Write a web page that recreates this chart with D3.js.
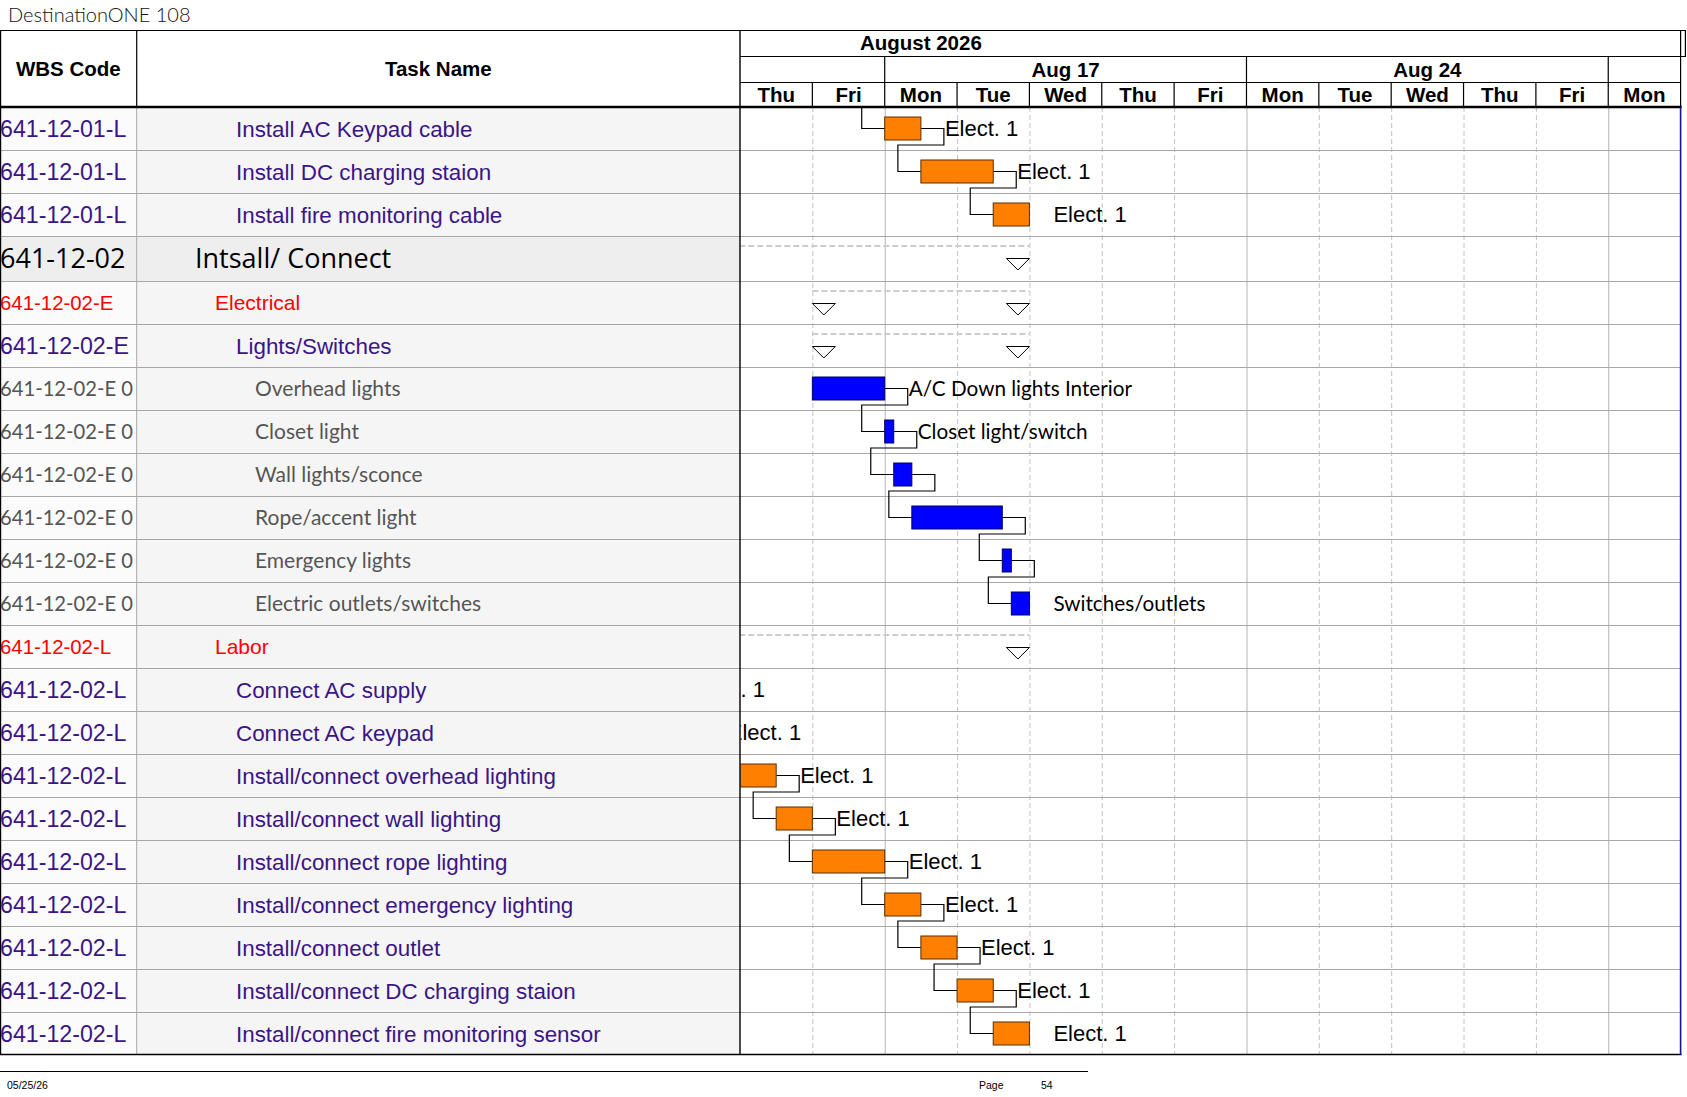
<!DOCTYPE html>
<html>
<head>
<meta charset="utf-8">
<script src="https://cdn.jsdelivr.net/npm/d3@7"></script>
<style>
  body { margin: 0; background: #fff; }
  svg { display: block; }
</style>
</head>
<body>
<div id="chart"></div>
<script>
(() => {

  // --- data -----------------------------------------------------------
  let wbsCodes = [
    "641-12-01-L", "641-12-01-L", "641-12-01-L",
    "641-12-02", "641-12-02-E", "641-12-02-E",
    "641-12-02-E 0", "641-12-02-E 0", "641-12-02-E 0",
    "641-12-02-E 0", "641-12-02-E 0", "641-12-02-E 0",
    "641-12-02-L", "641-12-02-L", "641-12-02-L", "641-12-02-L",
    "641-12-02-L", "641-12-02-L", "641-12-02-L", "641-12-02-L",
    "641-12-02-L", "641-12-02-L"
  ]

  let taskNames = [
    "Install AC Keypad cable", "Install DC charging staion", "Install fire monitoring cable",
    "Intsall/ Connect", "Electrical", "Lights/Switches",
    "Overhead lights", "Closet light", "Wall lights/sconce",
    "Rope/accent light", "Emergency lights", "Electric outlets/switches",
    "Labor", "Connect AC supply", "Connect AC keypad",
    "Install/connect overhead lighting", "Install/connect wall lighting",
    "Install/connect rope lighting", "Install/connect emergency lighting",
    "Install/connect outlet", "Install/connect DC charging staion",
    "Install/connect fire monitoring sensor"
  ]

  let outlineLevels = [3, 3, 3, 1, 2, 3, 4, 4, 4, 4, 4, 4, 2, 3, 3, 3, 3, 3, 3, 3, 3, 3]

  // bar kind: "res" = orange resource task, "fix" = blue task, "sum" = summary
  let barKinds = [
    "res", "res", "res", "sum", "sum", "sum",
    "fix", "fix", "fix", "fix", "fix", "fix",
    "sum", "res", "res", "res", "res", "res", "res", "res", "res", "res"
  ]

  // start / finish in working days counted from Thu Aug 13 2026
  let taskStart = [2, 2.5, 3.5, -2, 1, 1, 1, 2, 2.125, 2.375, 3.625, 3.75,
                   -2, -1.5, -1, 0, 0.5, 1, 2, 2.5, 3, 3.5]
  let taskEnd = [2.5, 3.5, 4, 4, 4, 4, 2, 2.125, 2.375, 3.625, 3.75, 4,
                 4, -1, -0.5, 0.5, 1, 2, 2.5, 3, 3.5, 4]

  let barLabels = [
    "Elect. 1", "Elect. 1", "Elect. 1", "", "", "",
    "A/C Down lights Interior", "Closet light/switch", "", "", "", "Switches/outlets",
    "", "Elect. 1", "Elect. 1", "Elect. 1", "Elect. 1", "Elect. 1",
    "Elect. 1", "Elect. 1", "Elect. 1", "Elect. 1"
  ]

  // finish-to-start links, by row index
  let links = [[0, 1], [1, 2], [6, 7], [7, 8], [8, 9], [9, 10], [10, 11],
               [13, 14], [14, 15], [15, 16], [16, 17], [17, 18], [18, 19], [19, 20], [20, 21]]
  let linkedFromAbove = [0]

  // timescale
  let dayLabels = ["Thu", "Fri", "Mon", "Tue", "Wed", "Thu", "Fri", "Mon", "Tue", "Wed", "Thu", "Fri", "Mon"]
  let weekLabels = ["Aug 10", "Aug 17", "Aug 24", "Aug 31"]
  let weekStarts = [-3, 2, 7, 12]
  let monthLabels = ["August 2026"]
  let monthSpans = [[-8, 13]]

  // --- layout -----------------------------------------------------------
  let W = 1687, H = 1097
  let arial = "'Liberation Sans', Arial, sans-serif"
  let calibri = "Lato, 'Open Sans', sans-serif"
  let tahoma = "'Open Sans', 'Noto Sans', sans-serif"

  let svg = d3.select("#chart")
  .append("svg")
  .attr("width", W)
  .attr("height", H)

  let wbsRight = 136.7
  let tableRight = 740
  let headTop = 30.5
  let bodyTop = 107

  let x = d3.scaleLinear()
  .domain([0, dayLabels.length])
  .range([tableRight, 1680.6])

  let rowH = outlineLevels.map(l => l === 1 ? 45 : 43)
  let rowTop = [bodyTop].concat(Array.from(d3.cumsum(rowH)).map(v => bodyTop + v))
  let bodyBottom = rowTop[rowTop.length - 1]
  let mid = i => rowTop[i] + rowH[i] / 2
  let barTop = i => rowTop[i] + 10
  let barH = 23

  let levelStyle = {
    1: {font: tahoma, size: 27, wbsSize: 27, color: "#000", indent: 195},
    2: {font: arial, size: 21, wbsSize: 20.4, color: "#ff0000", indent: 215},
    3: {font: arial, size: 22.4, wbsSize: 23.2, color: "#3b1487", indent: 236},
    4: {font: calibri, size: 21, wbsSize: 20.2, color: "#555", indent: 255}
  }

  // title
  svg.append("text")
  .attr("x", 8)
  .attr("y", 21.5)
  .text("DestinationONE 108")
  .style("font-family", calibri)
  .style("font-weight", 300)
  .style("font-size", "20px")
  .style("fill", "#111")

  // row backgrounds
  let rows = svg.append("g")
  rows.selectAll(".wbs_bg")
  .data(taskNames)
  .enter()
  .append("rect")
  .attr("x", 0)
  .attr("y", (d, i) => rowTop[i])
  .attr("width", wbsRight)
  .attr("height", (d, i) => rowH[i])
  .style("fill", (d, i) => outlineLevels[i] === 1 ? "#eeeeee" : "#fbfbfb")

  rows.selectAll(".name_bg")
  .data(taskNames)
  .enter()
  .append("rect")
  .attr("x", wbsRight)
  .attr("y", (d, i) => rowTop[i])
  .attr("width", tableRight - wbsRight)
  .attr("height", (d, i) => rowH[i])
  .style("fill", (d, i) => outlineLevels[i] === 1 ? "#eeeeee" : "#f5f5f5")

  // gantt vertical grid
  let grid = svg.append("g")
  grid.selectAll(".day_line")
  .data(d3.range(1, dayLabels.length))
  .enter()
  .append("line")
  .attr("x1", d => x(d) + 0.5)
  .attr("x2", d => x(d) + 0.5)
  .attr("y1", bodyTop)
  .attr("y2", bodyBottom)
  .style("stroke", d => weekStarts.includes(d) ? "#b4b4b4" : "#c4c4c4")
  .style("stroke-width", 1)
  .style("stroke-dasharray", d => weekStarts.includes(d) ? null : "5,3")

  // row lines
  grid.selectAll(".row_line")
  .data(rowTop.slice(1, -1))
  .enter()
  .append("line")
  .attr("x1", 0)
  .attr("x2", x.range()[1])
  .attr("y1", d => d + 0.5)
  .attr("y2", d => d + 0.5)
  .style("stroke", "#a8a8a8")
  .style("stroke-width", 1.2)

  grid.append("line")
  .attr("x1", wbsRight).attr("x2", wbsRight)
  .attr("y1", bodyTop).attr("y2", bodyBottom)
  .style("stroke", "#a8a8a8")

  // table text
  let tbl = svg.append("g")
  tbl.selectAll(".wbs")
  .data(wbsCodes)
  .enter()
  .append("text")
  .attr("x", 0)
  .attr("y", (d, i) => mid(i))
  .attr("dy", "0.36em")
  .text(d => d)
  .style("font-family", (d, i) => levelStyle[outlineLevels[i]].font)
  .style("font-size", (d, i) => levelStyle[outlineLevels[i]].wbsSize + "px")
  .style("fill", (d, i) => levelStyle[outlineLevels[i]].color)

  tbl.selectAll(".name")
  .data(taskNames)
  .enter()
  .append("text")
  .attr("x", (d, i) => levelStyle[outlineLevels[i]].indent)
  .attr("y", (d, i) => mid(i))
  .attr("dy", "0.36em")
  .text(d => d)
  .style("font-family", (d, i) => levelStyle[outlineLevels[i]].font)
  .style("font-size", (d, i) => levelStyle[outlineLevels[i]].size + "px")
  .style("fill", (d, i) => levelStyle[outlineLevels[i]].color)

  // --- gantt body, clipped to the page's timescale ------------------------
  svg.append("clipPath")
  .attr("id", "gantt_clip")
  .append("rect")
  .attr("x", tableRight + 0.5)
  .attr("y", bodyTop)
  .attr("width", x.range()[1] - tableRight - 0.5)
  .attr("height", bodyBottom - bodyTop)

  let gantt = svg.append("g").attr("clip-path", "url(#gantt_clip)")

  let summaries = d3.range(taskNames.length).filter(i => barKinds[i] === "sum")
  let bars = d3.range(taskNames.length).filter(i => barKinds[i] !== "sum")

  gantt.selectAll(".sum_line")
  .data(summaries)
  .enter()
  .append("line")
  .attr("x1", i => x(taskStart[i]))
  .attr("x2", i => x(taskEnd[i]))
  .attr("y1", i => rowTop[i] + 10)
  .attr("y2", i => rowTop[i] + 10)
  .style("stroke", "#cccccc")
  .style("stroke-width", 2)
  .style("stroke-dasharray", "6,3")

  let tri = (x0, y0) => `M${x0},${y0} L${x0 + 23},${y0} L${x0 + 11.5},${y0 + 11.5} Z`

  gantt.selectAll(".sum_start")
  .data(summaries)
  .enter()
  .append("path")
  .attr("d", i => tri(x(taskStart[i]), rowTop[i] + 22.5))
  .style("fill", "#fff")
  .style("stroke", "#000")
  .style("stroke-width", 1)

  gantt.selectAll(".sum_end")
  .data(summaries)
  .enter()
  .append("path")
  .attr("d", i => tri(x(taskEnd[i]) - 23, rowTop[i] + 22.5))
  .style("fill", "#fff")
  .style("stroke", "#000")
  .style("stroke-width", 1)

  // link lines
  let linkPath = ([a, b]) => {
    let x1 = x(taskEnd[a]), x2 = x(taskStart[b])
    let yb = barTop(a) + barH + 5
    return `M${x1},${mid(a)} H${x1 + 23} V${yb} H${x2 - 23} V${mid(b)} H${x2}`
  }

  gantt.selectAll(".link")
  .data(links)
  .enter()
  .append("path")
  .attr("d", linkPath)
  .style("fill", "none")
  .style("stroke", "#000")
  .style("stroke-width", 1.2)

  gantt.selectAll(".link_above")
  .data(linkedFromAbove)
  .enter()
  .append("path")
  .attr("d", i => `M${x(taskStart[i]) - 23},${rowTop[i]} V${mid(i)} H${x(taskStart[i])}`)
  .style("fill", "none")
  .style("stroke", "#000")
  .style("stroke-width", 1.2)

  gantt.selectAll(".bar")
  .data(bars)
  .enter()
  .append("rect")
  .attr("x", i => x(taskStart[i]))
  .attr("y", i => barTop(i))
  .attr("width", i => x(taskEnd[i]) - x(taskStart[i]))
  .attr("height", barH)
  .style("fill", i => barKinds[i] === "res" ? "#ff8000" : "#0000ff")
  .style("stroke", i => barKinds[i] === "res" ? "#5a2d00" : "#000060")
  .style("stroke-width", 1)

  gantt.selectAll(".bar_label")
  .data(bars.filter(i => barLabels[i]))
  .enter()
  .append("text")
  .attr("x", i => x(taskEnd[i]) + 24)
  .attr("y", i => mid(i))
  .attr("dy", "0.36em")
  .text(i => barLabels[i])
  .style("font-family", i => barKinds[i] === "res" ? arial : calibri)
  .style("font-size", i => barKinds[i] === "res" ? "22px" : "20.7px")
  .style("fill", "#000")

  // --- header -------------------------------------------------------------
  let head = svg.append("g")
  let monthBottom = 56.5, weekBottom = 82.5

  head.append("text")
  .attr("x", wbsRight / 2)
  .attr("y", 76)
  .text("WBS Code")
  .style("text-anchor", "middle")

  head.append("text")
  .attr("x", (wbsRight + tableRight) / 2)
  .attr("y", 76)
  .text("Task Name")
  .style("text-anchor", "middle")

  head.selectAll(".month")
  .data(monthLabels)
  .enter()
  .append("text")
  .attr("x", (d, i) => x((monthSpans[i][0] + monthSpans[i][1]) / 2))
  .attr("y", 50)
  .text(d => d)
  .style("text-anchor", "middle")

  // only weeks whose whole Mon-Fri cell is on this page get a label
  let shownWeeks = d3.range(weekLabels.length)
    .filter(i => weekStarts[i] >= 0 && weekStarts[i] + 5 <= dayLabels.length)

  head.selectAll(".week")
  .data(shownWeeks)
  .enter()
  .append("text")
  .attr("x", i => x(weekStarts[i] + 2.5))
  .attr("y", 77)
  .text(i => weekLabels[i])
  .style("text-anchor", "middle")

  head.selectAll(".day")
  .data(dayLabels)
  .enter()
  .append("text")
  .attr("x", (d, i) => x(i + 0.5))
  .attr("y", 101.5)
  .text(d => d)
  .style("text-anchor", "middle")

  head.selectAll("text")
  .style("font-family", arial)
  .style("font-weight", "bold")
  .style("font-size", "20.5px")
  .style("fill", "#000")

  let hline = (x1, x2, y, w) => head.append("line")
  .attr("x1", x1).attr("x2", x2).attr("y1", y).attr("y2", y)
  .style("stroke", "#000").style("stroke-width", w || 1.2)
  let vline = (xx, y1, y2, w, c) => head.append("line")
  .attr("x1", xx).attr("x2", xx).attr("y1", y1).attr("y2", y2)
  .style("stroke", c || "#000").style("stroke-width", w || 1.2)

  hline(0, 1686, headTop)
  hline(tableRight, 1686, monthBottom)
  hline(tableRight, x.range()[1], weekBottom)
  hline(0, x.range()[1] + 1, bodyTop, 2.6)
  hline(0, x.range()[1] + 1, bodyBottom - 0.5, 1.6)

  vline(0.6, headTop, bodyBottom)
  vline(wbsRight, headTop, bodyTop)
  vline(tableRight, headTop, bodyBottom, 1.4)
  vline(x.range()[1], headTop, bodyTop)
  vline(1685.4, headTop, monthBottom)
  vline(x.range()[1], bodyTop, bodyBottom, 1.6, "#14148c")

  weekStarts.filter(d => d > 0 && d < dayLabels.length)
  .forEach(d => vline(x(d), monthBottom, weekBottom))
  d3.range(1, dayLabels.length)
  .forEach(d => vline(x(d), weekBottom, bodyTop))

  // --- footer -------------------------------------------------------------
  svg.append("line")
  .attr("x1", 0).attr("x2", 1088).attr("y1", 1071.5).attr("y2", 1071.5)
  .style("stroke", "#000").style("stroke-width", 1.2)

  let foot = svg.append("g")
    .style("font-family", "'Liberation Sans Narrow', 'Liberation Sans', sans-serif")
    .style("font-size", "10.5px")
    .style("fill", "#000")
  foot.append("text").attr("x", 7).attr("y", 1089).text("05/25/26")
  foot.append("text").attr("x", 979).attr("y", 1089).text("Page")
  foot.append("text").attr("x", 1041).attr("y", 1089).text("54")

})()
</script>
</body>
</html>
